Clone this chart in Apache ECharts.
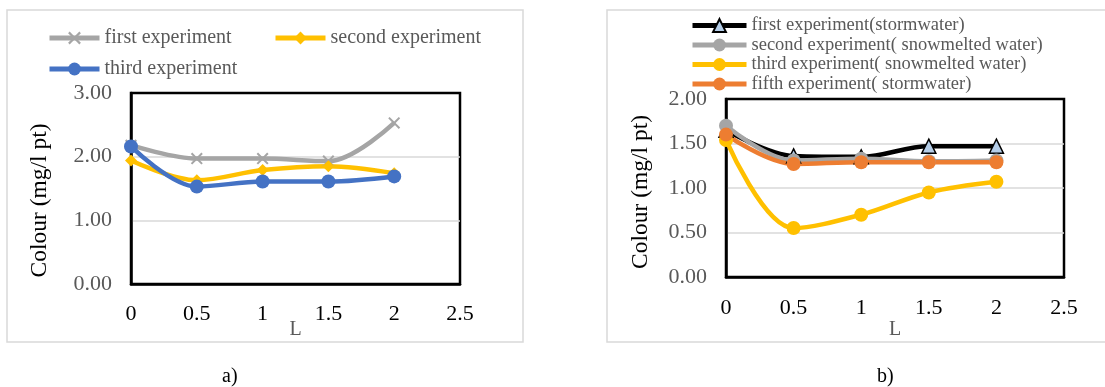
<!DOCTYPE html>
<html>
<head>
<meta charset="utf-8">
<script src="https://cdn.jsdelivr.net/npm/echarts@6/dist/echarts.min.js"></script>
<style>
  html, body { margin: 0; padding: 0; background: #fff; }
  #chart { width: 1105px; height: 387px; }
</style>
</head>
<body>
<div id="chart"></div>
<script>
// distance values shared by both panels
const xValues = [0, 0.5, 1, 1.5, 2]

// panel a)
const aFirst = [2.18, 1.97, 1.97, 1.93, 2.53]
const aSecond = [1.94, 1.63, 1.79, 1.85, 1.74]
const aThird = [2.16, 1.53, 1.61, 1.61, 1.69]

// panel b)
const bFirst = [1.65, 1.36, 1.35, 1.47, 1.47]
const bSecond = [1.70, 1.31, 1.33, 1.30, 1.31]
const bThird = [1.54, 0.55, 0.70, 0.95, 1.07]
const bFifth = [1.60, 1.27, 1.29, 1.29, 1.29]

const serif = 'Liberation Serif'
const xMark = 'path://M0,1.2 L1.2,0 L5,3.8 L8.8,0 L10,1.2 L6.2,5 L10,8.8 L8.8,10 L5,6.2 L1.2,10 L0,8.8 L3.8,5 Z'

function pairs (ys) {
  return xValues.map((x, i) => [x, ys[i]])
}

function xAxisOf (gridIndex, margin, gap) {
  return {
    type: 'value', gridIndex: gridIndex, min: 0, max: 2.5, interval: 0.5,
    name: 'L', nameLocation: 'middle', nameGap: gap, nameMoveOverlap: false,
    nameTextStyle: { fontFamily: serif, fontSize: 20, color: '#595959' },
    axisLine: { show: true, onZero: false, lineStyle: { color: '#000', width: 2.5 } },
    axisTick: { show: false }, splitLine: { show: false },
    axisLabel: { fontFamily: serif, fontSize: 22, color: '#000', margin: margin }
  }
}

function yAxisOf (gridIndex, max, interval, gap, pad) {
  return {
    type: 'value', gridIndex: gridIndex, min: 0, max: max, interval: interval,
    name: 'Colour (mg/l pt)', nameLocation: 'middle', nameGap: gap,
    nameTextStyle: { fontFamily: serif, fontSize: 23.5, color: '#000', padding: pad },
    axisLine: { show: true, onZero: false, lineStyle: { color: '#000', width: 2.5 } },
    axisTick: { show: false },
    splitLine: { showMinLine: false, showMaxLine: false, lineStyle: { color: '#D9D9D9', width: 1.5 } },
    axisLabel: { fontFamily: serif, fontSize: 22, color: '#595959', margin: 19,
      formatter: v => v.toFixed(2) }
  }
}

function line (name, data, color, symbol, size, idx, extra) {
  return Object.assign({
    name: name, type: 'line', xAxisIndex: idx, yAxisIndex: idx,
    data: pairs(data), smooth: 0.35, symbol: symbol, symbolSize: size,
    lineStyle: { color: color, width: 4.5 },
    itemStyle: { color: color },
    emphasis: { disabled: true }
  }, extra || {})
}

const legendText = { fontFamily: serif, fontSize: 20, color: '#595959' }
const legendLine = { width: 5 }

const option = {
  animation: false,
  graphic: [
    { type: 'rect', shape: { x: 7, y: 10, width: 516, height: 332 },
      style: { fill: 'none', stroke: '#D9D9D9', lineWidth: 1.5 } },
    { type: 'rect', shape: { x: 607, y: 10, width: 510, height: 332 },
      style: { fill: 'none', stroke: '#D9D9D9', lineWidth: 1.5 } },
    { type: 'text', left: 222, top: 367, style: { text: 'a)', font: '20px "Liberation Serif"', fill: '#000' } },
    { type: 'text', left: 877, top: 367, style: { text: 'b)', font: '20px "Liberation Serif"', fill: '#000' } }
  ],
  grid: [
    { left: 131, top: 93, width: 329, height: 191, show: true, borderColor: '#000', borderWidth: 2.5 },
    { left: 726, top: 99, width: 338, height: 178, show: true, borderColor: '#000', borderWidth: 2.5 }
  ],
  legend: [
    { data: ['first experiment'], left: 47, top: 28, padding: 0, itemWidth: 50, itemHeight: 16, lineStyle: legendLine, textStyle: legendText },
    { data: ['second experiment'], left: 273, top: 28, padding: 0, itemWidth: 50, itemHeight: 16, lineStyle: legendLine, textStyle: legendText },
    { data: ['third experiment'], left: 47, top: 59, padding: 0, itemWidth: 50, itemHeight: 16, lineStyle: legendLine, textStyle: legendText },
    {
      data: ['first experiment(stormwater)', 'second experiment( snowmelted water)',
        'third experiment( snowmelted water)', 'fifth experiment( stormwater)'],
      orient: 'vertical', left: 690, top: 16, padding: 0, itemWidth: 54, itemHeight: 16, itemGap: 0.5,
      lineStyle: legendLine,
      textStyle: { fontFamily: serif, fontSize: 18.5, color: '#595959', lineHeight: 16 }
    }
  ],
  xAxis: [xAxisOf(0, 19, 36), xAxisOf(1, 20, 43)],
  yAxis: [yAxisOf(0, 3, 1, 79, [0, 24, 0, 0]), yAxisOf(1, 2, 0.5, 73, [0, 8, 0, 0])],
  series: [
    line('first experiment', aFirst, '#A5A5A5', xMark, 12, 0),
    line('second experiment', aSecond, '#FFC000', 'diamond', 12, 0),
    line('third experiment', aThird, '#4472C4', 'circle', 14, 0),
    line('first experiment(stormwater)', bFirst, '#000', 'triangle', 14, 1,
      { itemStyle: { color: '#B4CDE8', borderColor: '#000', borderWidth: 1.5 } }),
    line('second experiment( snowmelted water)', bSecond, '#A5A5A5', 'circle', 14, 1),
    line('third experiment( snowmelted water)', bThird, '#FFC000', 'circle', 14, 1),
    line('fifth experiment( stormwater)', bFifth, '#ED7D31', 'circle', 14, 1)
  ]
}

const chart = echarts.init(document.getElementById('chart'))
chart.setOption(option)
</script>
</body>
</html>
